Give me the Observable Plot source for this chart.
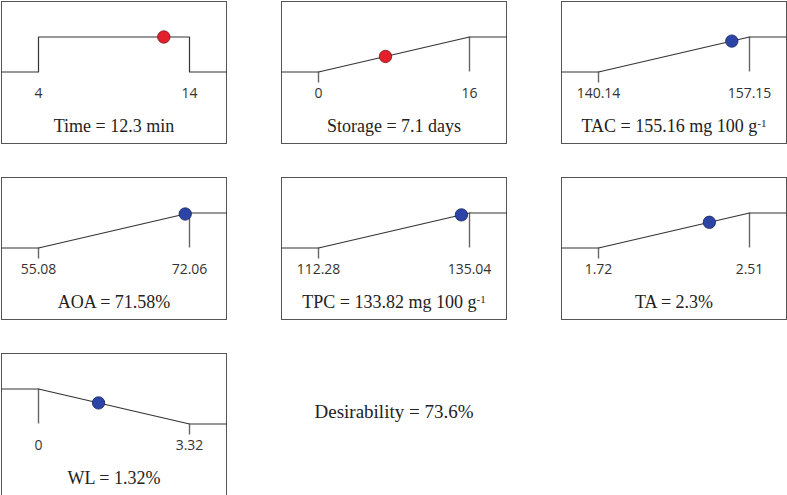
<!DOCTYPE html>
<html>
<head>
<meta charset="utf-8">
<script src="https://cdn.jsdelivr.net/npm/d3@7"></script>
<script src="https://cdn.jsdelivr.net/npm/@observablehq/plot@0.6"></script>
<style>
  html, body { margin: 0; padding: 0; background: #fff; }
  #wrap { position: relative; width: 787px; height: 495px; overflow: hidden; }
  .panel { position: absolute; }
  #desir { position: absolute; font-family: "Liberation Serif", "DejaVu Serif", serif; font-size: 19px; color: #222; white-space: nowrap; }
</style>
</head>
<body>
<div id="wrap"></div>
<script>
// ---- data ----
const names      = ["Time", "Storage", "TAC", "AOA", "TPC", "TA", "WL"];
const kinds      = ["factor", "factor", "response", "response", "response", "response", "response"];
const goals      = ["range", "maximize", "maximize", "maximize", "maximize", "maximize", "minimize"];
const lowers     = [4, 0, 140.14, 55.08, 112.28, 1.72, 0];
const uppers     = [14, 16, 157.15, 72.06, 135.04, 2.51, 3.32];
const lowerTicks = ["4", "0", "140.14", "55.08", "112.28", "1.72", "0"];
const upperTicks = ["14", "16", "157.15", "72.06", "135.04", "2.51", "3.32"];
const solution   = [12.3, 7.1, 155.16, 71.58, 133.82, 2.3, 1.32];
const titles     = ["Time = 12.3 min", "Storage = 7.1 days", "TAC = 155.16 mg 100 g", "AOA = 71.58%",
                    "TPC = 133.82 mg 100 g", "TA = 2.3%", "WL = 1.32%"];
const supers     = ["", "", "-1", "", "-1", "", ""];
const desirabilityLabel = "Desirability = 73.6%";

// ---- layout ----
const colX = [1, 281, 561];
const rowY = [1, 177, 353];
const W = 225, H = 142;
const xLo = 37, xHi = 188;          // pixel positions of the lower/upper limits inside a panel
const yZero = 70.5, yOne = 35.5;     // pixel positions of desirability 0 and 1
const tickLen = 11 / (yZero - yOne); // short tick length in desirability units

function desir(goal, lo, hi, v) {
  if (goal === "range") return (v >= lo && v <= hi) ? 1 : 0;
  if (goal === "maximize") return Math.max(0, Math.min(1, (v - lo) / (hi - lo)));
  return Math.max(0, Math.min(1, (hi - v) / (hi - lo)));
}

const wrap = document.getElementById("wrap");

names.forEach((name, i) => {
  const lo = lowers[i], hi = uppers[i], goal = goals[i];
  const pad = (hi - lo) * xLo / (xHi - xLo);
  const xmin = lo - pad, xmax = hi + (hi - lo) * (W - xHi) / (xHi - xLo);
  let curve;
  if (goal === "range") curve = [[xmin, 0], [lo, 0], [lo, 1], [hi, 1], [hi, 0], [xmax, 0]];
  else if (goal === "maximize") curve = [[xmin, 0], [lo, 0], [hi, 1], [xmax, 1]];
  else curve = [[xmin, 1], [lo, 1], [hi, 0], [xmax, 0]];
  const curvePts = curve.map(([x, y]) => ({x, y}));

  // vertical guide lines at the limits
  const rules = [];
  if (goal === "maximize") {
    rules.push({x: hi, y1: 1, y2: 0});
    rules.push({x: lo, y1: 0, y2: -tickLen});
  } else if (goal === "minimize") {
    rules.push({x: lo, y1: 1, y2: 0});
    rules.push({x: hi, y1: 0, y2: -tickLen});
  }
  const dotVal = solution[i];
  const dot = [{x: dotVal, y: desir(goal, lo, hi, dotVal)}];
  const isFactor = kinds[i] === "factor";

  const chart = Plot.plot({
    width: W, height: H,
    margin: 0,
    x: {domain: [lo, hi], range: [xLo, xHi], axis: null},
    y: {domain: [0, 1], range: [yZero, yOne], axis: null},
    style: {background: "transparent", overflow: "visible"},
    marks: [
      Plot.frame({stroke: "#555", strokeWidth: 1}),
      Plot.ruleX(rules, {x: "x", y1: "y1", y2: "y2", stroke: "#666", strokeWidth: 1.4}),
      Plot.line(curvePts, {x: "x", y: "y", stroke: "#333", strokeWidth: 1.2, curve: "linear"}),
      Plot.dot(dot, {x: "x", y: "y", r: 6.2,
        fill: isFactor ? "#e3202b" : "#2b44a6",
        stroke: isFactor ? "#7a1015" : "#16235e", strokeWidth: 0.8}),
      Plot.text([lo, hi], {x: d => d, text: (d, j) => j === 0 ? lowerTicks[i] : upperTicks[i],
        frameAnchor: "top", dy: 92, lineAnchor: "middle",
        fontFamily: "'Open Sans', 'Noto Sans', sans-serif", fontSize: 14, fill: "#333"}),
      Plot.text([titles[i]], {text: d => d, frameAnchor: "top", dy: 125, lineAnchor: "middle",
        textAnchor: "middle",
        fontFamily: "'Liberation Serif', 'DejaVu Serif', serif", fontSize: 18, fill: "#222",
        className: "ptitle"})
    ]
  });
  chart.classList.add("panel");
  chart.style.left = colX[i % 3] + "px";
  chart.style.top = rowY[Math.floor(i / 3)] + "px";
  // superscript for units
  if (supers[i]) {
    const t = chart.querySelector(".ptitle text") || [...chart.querySelectorAll("text")].find(e => e.textContent === titles[i]);
    if (t) {
      const sp = document.createElementNS("http://www.w3.org/2000/svg", "tspan");
      sp.setAttribute("dy", "-0.45em");
      sp.setAttribute("font-size", "11");
      sp.textContent = supers[i];
      t.appendChild(sp);
    }
  }
  wrap.appendChild(chart);
});

const d = document.createElement("div");
d.id = "desir";
d.textContent = desirabilityLabel;
wrap.appendChild(d);
// center at (394, 412)
const r = d.getBoundingClientRect();
d.style.left = (394 - r.width / 2) + "px";
d.style.top = (412 - r.height / 2) + "px";
</script>
</body>
</html>
